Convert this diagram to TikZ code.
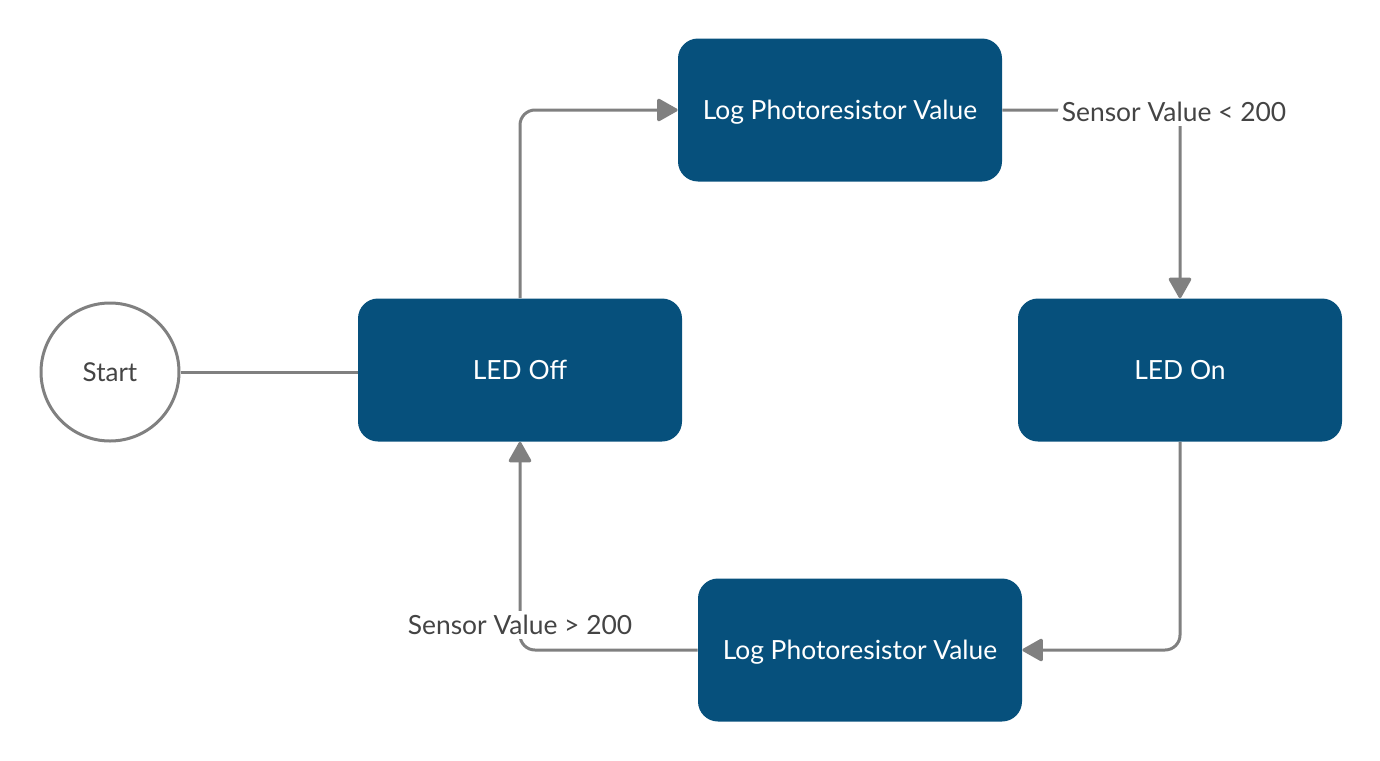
\documentclass[tikz,border=0pt]{standalone}
\usepackage{fontspec}
\setmainfont{Lato}
\usetikzlibrary{arrows.meta}
\definecolor{boxblue}{RGB}{6,80,124}
\definecolor{linegray}{RGB}{128,128,128}
\definecolor{textgray}{RGB}{68,68,68}
\begin{document}
\begin{tikzpicture}[x=0.5pt, y=-0.5pt,
    state/.style={rectangle, rounded corners=10pt, fill=boxblue, text=white, minimum width=162pt, minimum height=71.5pt, inner sep=0pt, text depth=0pt, font=\fontsize{13.2}{15}\selectfont},
    startnode/.style={circle, draw=linegray, line width=1.5pt, minimum size=69pt, inner sep=0pt, text depth=0pt, text=textgray, font=\fontsize{13}{15}\selectfont},
    cond/.style={fill=white, text=textgray, inner sep=2pt, font=\fontsize{13.2}{15}\selectfont},
    link/.style={draw=linegray, line width=1.5pt, rounded corners=7.5pt, -{Triangle[length=11pt, width=12pt, round]}}]
        \useasboundingbox (0,0) rectangle (1380,760);
        \node[startnode] (start) at (110,372) {Start};
        \node[state] (off) at (520,370) {LED Off};
        \node[state] (log1) at (840,110) {Log Photoresistor Value};
        \node[state] (on) at (1180,370) {LED On};
        \node[state] (log2) at (860,650) {Log Photoresistor Value};
        \draw[draw=linegray, line width=1.5pt] (start) -- (off.west |- start);
        \draw[link] (off.north) |- (log1.west);
        \draw[link] (log1.east) -| node[cond, pos=0.5, xshift=-3pt, yshift=-1pt] (lt) {Sensor Value < 200} (on.north);
        \draw[link] (on.south) |- (log2.east);
        \draw[link] (log2.west) -| node[cond, pos=0.56] (gt) {Sensor Value > 200} (off.south);
    \end{tikzpicture}
\end{document}
